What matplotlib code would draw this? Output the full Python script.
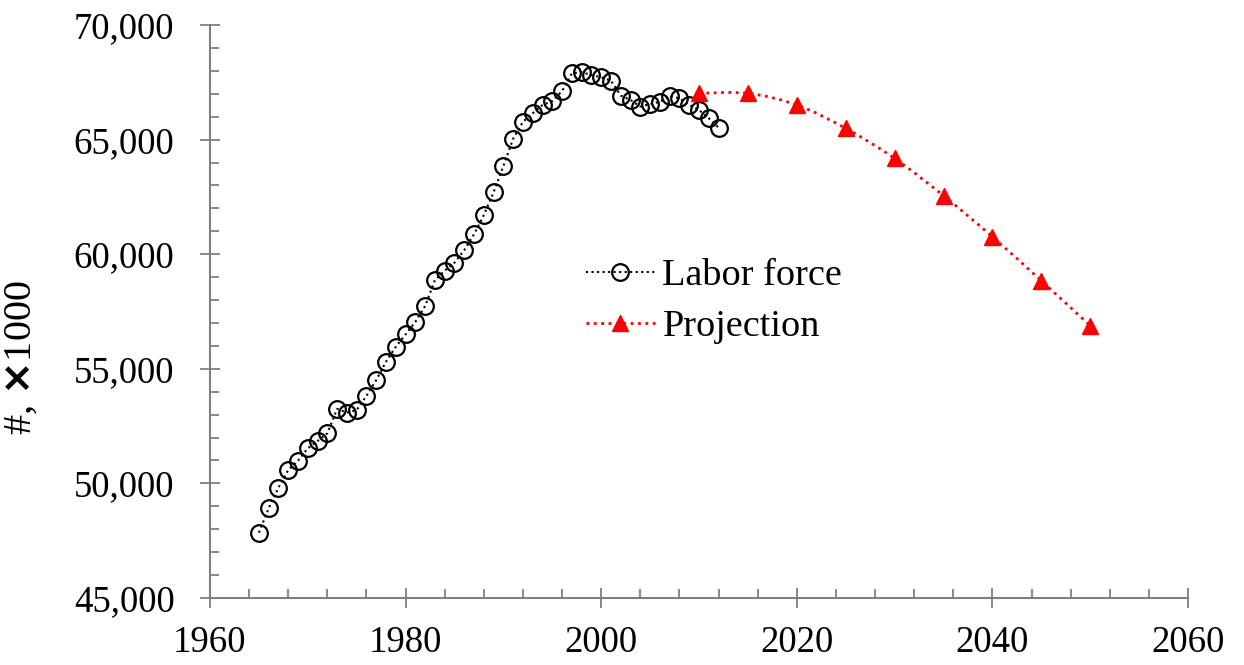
import matplotlib.pyplot as plt
import numpy as np
from matplotlib.path import Path
from matplotlib.patches import PathPatch
from matplotlib.ticker import MultipleLocator, FuncFormatter

plt.rcParams['font.family'] = ['Liberation Serif', 'DejaVu Serif']

# Labor force (thousands), annual
annees = list(range(1965, 2013))
labor_force = [
    47850, 48910, 49810, 50585, 50990, 51530, 51850, 52185, 53250, 53085,
    53200, 53820, 54510, 55310, 55960, 56500, 57050, 57740, 58870, 59280,
    59630, 60180, 60870, 61710, 62700, 63850, 65040, 65780, 66150, 66510,
    66680, 67120, 67890, 67940, 67820, 67720, 67570, 66920, 66730, 66440,
    66550, 66650, 66900, 66800, 66510, 66290, 65930, 65520,
]

# Projection every 5 years
annees_proj = [2010, 2015, 2020, 2025, 2030, 2035, 2040, 2045, 2050]
projection = [67020, 67020, 66510, 65490, 64180, 62550, 60760, 58840, 56880]


def chemin_lisse(x, y, tension=1 / 6):
    """Bezier path through the points (smoothed line, like a spreadsheet)."""
    x = np.asarray(x, float)
    y = np.asarray(y, float)
    verts = [(x[0], y[0])]
    codes = [Path.MOVETO]
    n = len(x)
    for i in range(n - 1):
        x0, y0 = (x[i - 1], y[i - 1]) if i > 0 else (x[i], y[i])
        x3, y3 = (x[i + 2], y[i + 2]) if i + 2 < n else (x[i + 1], y[i + 1])
        c1 = (x[i] + (x[i + 1] - x0) * tension, y[i] + (y[i + 1] - y0) * tension)
        c2 = (x[i + 1] - (x3 - x[i]) * tension, y[i + 1] - (y3 - y[i]) * tension)
        verts += [c1, c2, (x[i + 1], y[i + 1])]
        codes += [Path.CURVE4] * 3
    return Path(verts, codes)


fig = plt.figure(figsize=(12.44, 6.65), dpi=100)
ax = fig.add_axes([0.1688, 0.1008, 0.7862, 0.8616])

ax.plot(annees, labor_force, linestyle=':', color='black', linewidth=1.5,
        marker='o', markersize=12, markerfacecolor='none',
        markeredgecolor='black', markeredgewidth=1.6, label='Labor force')

# smoothed dotted curve for the projection
courbe = PathPatch(chemin_lisse(annees_proj, projection), facecolor='none',
                   edgecolor='red', linestyle=':', linewidth=2)
ax.add_patch(courbe)
ax.plot(annees_proj, projection, linestyle='none', color='red',
        marker='^', markersize=11, markeredgecolor='red')
# legend proxy
ax.plot([], [], linestyle=':', color='red', linewidth=2, marker='^',
        markersize=11, label='Projection')

ax.set_xlim(1960, 2060)
ax.set_ylim(45000, 70000)
ax.xaxis.set_major_locator(MultipleLocator(20))
ax.xaxis.set_minor_locator(MultipleLocator(4))
ax.yaxis.set_major_locator(MultipleLocator(5000))
ax.yaxis.set_minor_locator(MultipleLocator(1000))
ax.yaxis.set_major_formatter(FuncFormatter(lambda v, p: f"{int(v):,}"))

gris = '#7f7f7f'
for cote in ['top', 'right']:
    ax.spines[cote].set_visible(False)
for cote in ['left', 'bottom']:
    ax.spines[cote].set_color(gris)
    ax.spines[cote].set_linewidth(1.5)

ax.tick_params(which='major', direction='inout', length=15, width=1.3,
               color=gris, labelsize=26.5, labelcolor='black')
ax.tick_params(axis='y', which='major', pad=18)
ax.tick_params(axis='x', which='major', pad=12)
ax.tick_params(which='minor', direction='in', length=6.5, width=1.3, color=gris)

ax.set_ylabel(r'#, $\mathbf{\times}$1000', fontsize=29)
ax.yaxis.set_label_coords(-0.174, 0.42)

ax.legend(loc='upper left', bbox_to_anchor=(0.365, 0.626), frameon=False,
          fontsize=27.5, handlelength=1.8, handletextpad=0.2,
          labelspacing=0.42, borderpad=0)

fig.savefig('out.png', dpi=100)
